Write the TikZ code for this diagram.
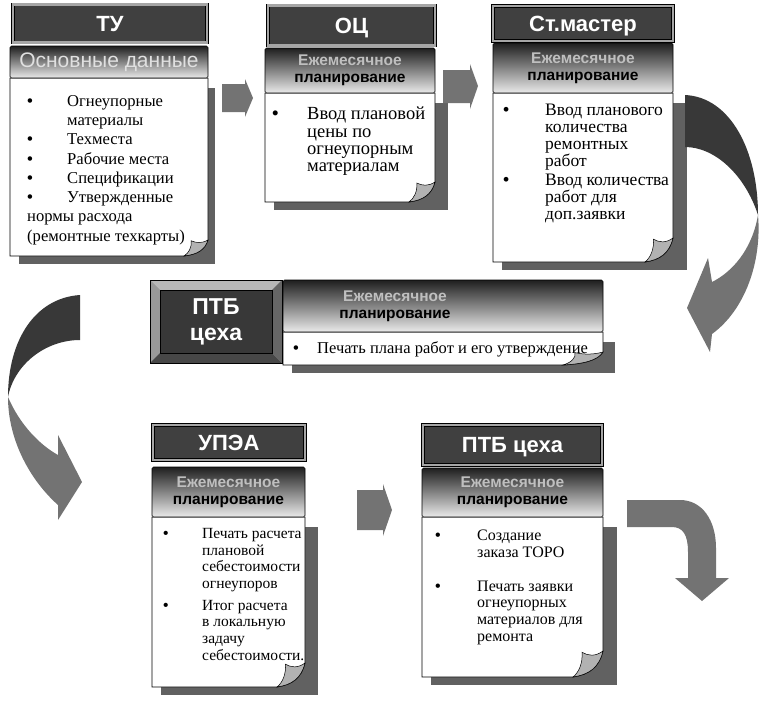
\documentclass[tikz,border=0pt]{standalone}
\usepackage{fontspec}
\setmainfont{Liberation Serif}
\setsansfont{Liberation Sans}
\usetikzlibrary{calc}
\newcommand\mybul[1]{\makebox[#1][l]{\textbf{•}}}
\newcommand\myind[1]{\hspace*{#1}}
\tikzset{
 ttl/.style={draw=black, double=black!35, double distance=2.2pt, line width=0.5pt, fill=black!75, text=white, font=\sffamily\bfseries\fontsize{22}{22}\selectfont, inner sep=0pt, text height=15.5pt, text depth=0pt},
 hdr/.style={draw=black, line width=0.6pt, top color=black!88, bottom color=black!8, inner sep=0pt, rounded corners=1.5pt},
 hdrtxt/.style={font=\sffamily\bfseries\fontsize{15.5}{17}\selectfont, align=center, inner sep=0pt},
 bodytxt/.style={align=left, inner sep=0pt, anchor=north west},
 shadowc/.style={fill=black!62},
 blockarrow/.style={fill=black!55},
 darkarrow/.style={fill=black!78},
 lightarrow/.style={fill=black!55},
}
% #1 name, #2 x1, #3 y1, #4 x2, #5 y2, #6 shadow dx, #7 fold w, #8 fold h
\newcommand\cardbody[8]{%
 \fill[shadowc] (#2+9,#3+10) rectangle (#4+#6,#5+8);
 \draw[fill=white,line width=0.7pt] (#2,#3) -- (#4,#3) -- (#4,#5-#8)
   .. controls (#4-0.13*#7,#5-0.36*#8) and (#4-0.47*#7,#5-0.09*#8) .. (#4-#7,#5) -- (#2,#5) -- cycle;
 \draw[fill=black!30,line width=0.5pt] (#4,#5-#8)
   .. controls (#4-0.27*#7,#5-0.77*#8) and (#4-0.5*#7,#5-0.82*#8) .. (#4-0.7*#7,#5-0.95*#8)
   .. controls (#4-0.67*#7,#5-0.55*#8) and (#4-0.8*#7,#5-0.18*#8) .. (#4-#7,#5)
   .. controls (#4-0.47*#7,#5-0.09*#8) and (#4-0.13*#7,#5-0.36*#8) .. cycle;
 \coordinate (#1) at (#2,#3);
}
\begin{document}
\begin{tikzpicture}[x=1pt,y=-1pt]
\useasboundingbox (0,0) rectangle (763,705);

% ---------- Card TU ----------
\node[ttl, minimum width=194, minimum height=38] (tu-t) at (110,23.5) {ТУ};
\cardbody{tu-b}{10}{78}{208}{256}{7}{24}{16}
\node[hdr, minimum width=198, minimum height=32] (tu-h) at (109,62) {};
\node[font=\sffamily\fontsize{21}{21}\selectfont, text=black!12, inner sep=0pt] (tu-ht) at (tu-h) {Основные данные};
\node[bodytxt, font=\fontsize{16.6}{19.3}\selectfont] (tu-x) at (27,95) {\mybul{40pt}Огнеупорные\\
\myind{40pt}материалы\\
\mybul{40pt}Техместа\\
\mybul{40pt}Рабочие места\\
\mybul{40pt}Спецификации\\
\mybul{40pt}Утвержденные\\
нормы расхода\\
(ремонтные техкарты)};

% ---------- Card OC ----------
\node[ttl, minimum width=167, minimum height=40] (oc-t) at (351.5,25.5) {ОЦ};
\cardbody{oc-b}{265}{93}{435}{202}{13}{26}{20}
\node[hdr, minimum width=170, minimum height=45] (oc-h) at (350,70.5) {};
\node[hdrtxt] (oc-ht) at (oc-h) {{\color{black!25}Ежемесячное}\\планирование};
\node[bodytxt, font=\fontsize{18.5}{17.3}\selectfont] (oc-x) at (272,107) {\mybul{35pt}Ввод плановой\\
\myind{35pt}цены по\\
\myind{35pt}огнеупорным\\
\myind{35pt}материалам};

% ---------- Card St.master ----------
\node[ttl, minimum width=180, minimum height=35] (sm-t) at (583,23.5) {Ст.мастер};
\cardbody{sm-b}{493}{93}{673}{262}{14}{28}{24}
\node[hdr, minimum width=180, minimum height=50] (sm-h) at (583,68) {};
\node[hdrtxt] (sm-ht) at (sm-h) {{\color{black!25}Ежемесячное}\\планирование};
\node[bodytxt, font=\fontsize{17.5}{17}\selectfont] (sm-x) at (503,104) {\mybul{42pt}Ввод планового\\
\myind{42pt}количества\\
\myind{42pt}ремонтных\\
\myind{42pt}работ\\[2pt]
\mybul{42pt}Ввод количества\\
\myind{42pt}работ для\\
\myind{42pt}доп.заявки};

% ---------- Middle PTB ----------
\fill[black!45] (150,280) rectangle (282,363);
\fill[black!28] (150,280) -- (282,280) -- (272,290) -- (160,290) -- cycle;
\fill[black!40] (150,280) -- (160,290) -- (160,353) -- (150,363) -- cycle;
\fill[black!72] (150,363) -- (160,353) -- (272,353) -- (282,363) -- cycle;
\fill[black!60] (282,280) -- (272,290) -- (272,353) -- (282,363) -- cycle;
\node[draw=black, line width=0.5pt, fill=black!78, minimum width=112, minimum height=63, inner sep=0pt] (ptb1-in) at (216,321.5) {};
\node[draw=black, line width=0.6pt, minimum width=132, minimum height=83, inner sep=0pt] (ptb1) at (216,321.5) {};
\node[text=white, font=\sffamily\bfseries\fontsize{23}{26}\selectfont, align=center, inner sep=0pt] (ptb1-t) at (216,321.5) {ПТБ\\цеха};
\cardbody{ptb1-b}{283}{332}{603}{365}{12}{40}{13}
\node[hdr, minimum width=320, minimum height=52] (ptb1-h) at (443,306) {};
\node[hdrtxt] (ptb1-ht) at (395,306) {{\color{black!25}Ежемесячное}\\планирование};
\node[bodytxt, font=\fontsize{16.5}{17}\selectfont] (ptb1-x) at (293,341) {\mybul{24pt}Печать плана работ и его утверждение};

% ---------- Card UPEA ----------
\node[ttl, minimum width=152, minimum height=35] (up-t) at (229,442.5) {УПЭА};
\cardbody{up-b}{152}{517}{305}{687}{13}{28}{24}
\node[hdr, minimum width=153, minimum height=50] (up-h) at (228.5,492) {};
\node[hdrtxt] (up-ht) at (up-h) {{\color{black!25}Ежемесячное}\\планирование};
\node[bodytxt, font=\fontsize{15.5}{16.7}\selectfont] (up-x) at (163,528) {\mybul{39pt}Печать расчета\\
\myind{39pt}плановой\\
\myind{39pt}себестоимости\\
\myind{39pt}огнеупоров\\[5pt]
\mybul{39pt}Итог расчета\\
\myind{39pt}в локальную\\
\myind{39pt}задачу\\
\myind{39pt}себестоимости.};

% ---------- Card PTB bottom ----------
\node[ttl, minimum width=179, minimum height=40] (pb-t) at (512.5,445) {ПТБ цеха};
\cardbody{pb-b}{422}{517}{603}{677}{14}{30}{26}
\node[hdr, minimum width=181, minimum height=49] (pb-h) at (512.5,492.5) {};
\node[hdrtxt] (pb-ht) at (pb-h) {{\color{black!25}Ежемесячное}\\планирование};
\node[bodytxt, font=\fontsize{16}{16.7}\selectfont] (pb-x) at (435,530) {\mybul{42pt}Создание\\
\myind{42pt}заказа ТОРО\\[17pt]
\mybul{42pt}Печать заявки\\
\myind{42pt}огнеупорных\\
\myind{42pt}материалов для\\
\myind{42pt}ремонта};

% ---------- Straight block arrows ----------
\fill[blockarrow] (222,84) -- (245,84) -- (245,79) -- (253,98) -- (245,117) -- (245,112) -- (222,112) -- cycle;
\fill[blockarrow] (443,70) -- (470,70) -- (470,64) -- (478,86) -- (470,109) -- (470,103) -- (443,103) -- cycle;
\fill[blockarrow] (357,490) -- (383,490) -- (383,484) -- (392,510) -- (383,536) -- (383,530) -- (357,530) -- cycle;

% ---------- Curved arrow right (St.master -> PTB) ----------
\fill[darkarrow] (685,95) .. controls (730,97) and (758,150) .. (758,215)
  .. controls (745,175) and (715,147) .. (685,147) -- cycle;
\fill[lightarrow] (758,215) .. controls (752,250) and (732,272) .. (712,282)
  -- (708,258) -- (687,308) -- (710,352) -- (712,334)
  .. controls (745,310) and (762,262) .. (758,215) -- cycle;

% ---------- Curved arrow left (PTB -> UPEA) ----------
\fill[darkarrow] (80,295) .. controls (35,298) and (8,340) .. (8,397)
  .. controls (14,365) and (45,340) .. (80,340) -- cycle;
\fill[lightarrow] (8,397) .. controls (20,425) and (40,445) .. (58,455)
  -- (58,435) -- (82,482) -- (58,520) -- (58,505)
  .. controls (30,480) and (8,440) .. (8,397) -- cycle;

% ---------- Curved arrow bottom right ----------
\fill[lightarrow] (627,500) -- (680,500) .. controls (702,500) and (716,520) .. (716,548)
  -- (716,578) -- (729,578) -- (702,601) -- (675,578) -- (688,578) -- (688,552)
  .. controls (688,535) and (683,527) .. (672,527) -- (627,527) -- cycle;
\end{tikzpicture}
\end{document}
